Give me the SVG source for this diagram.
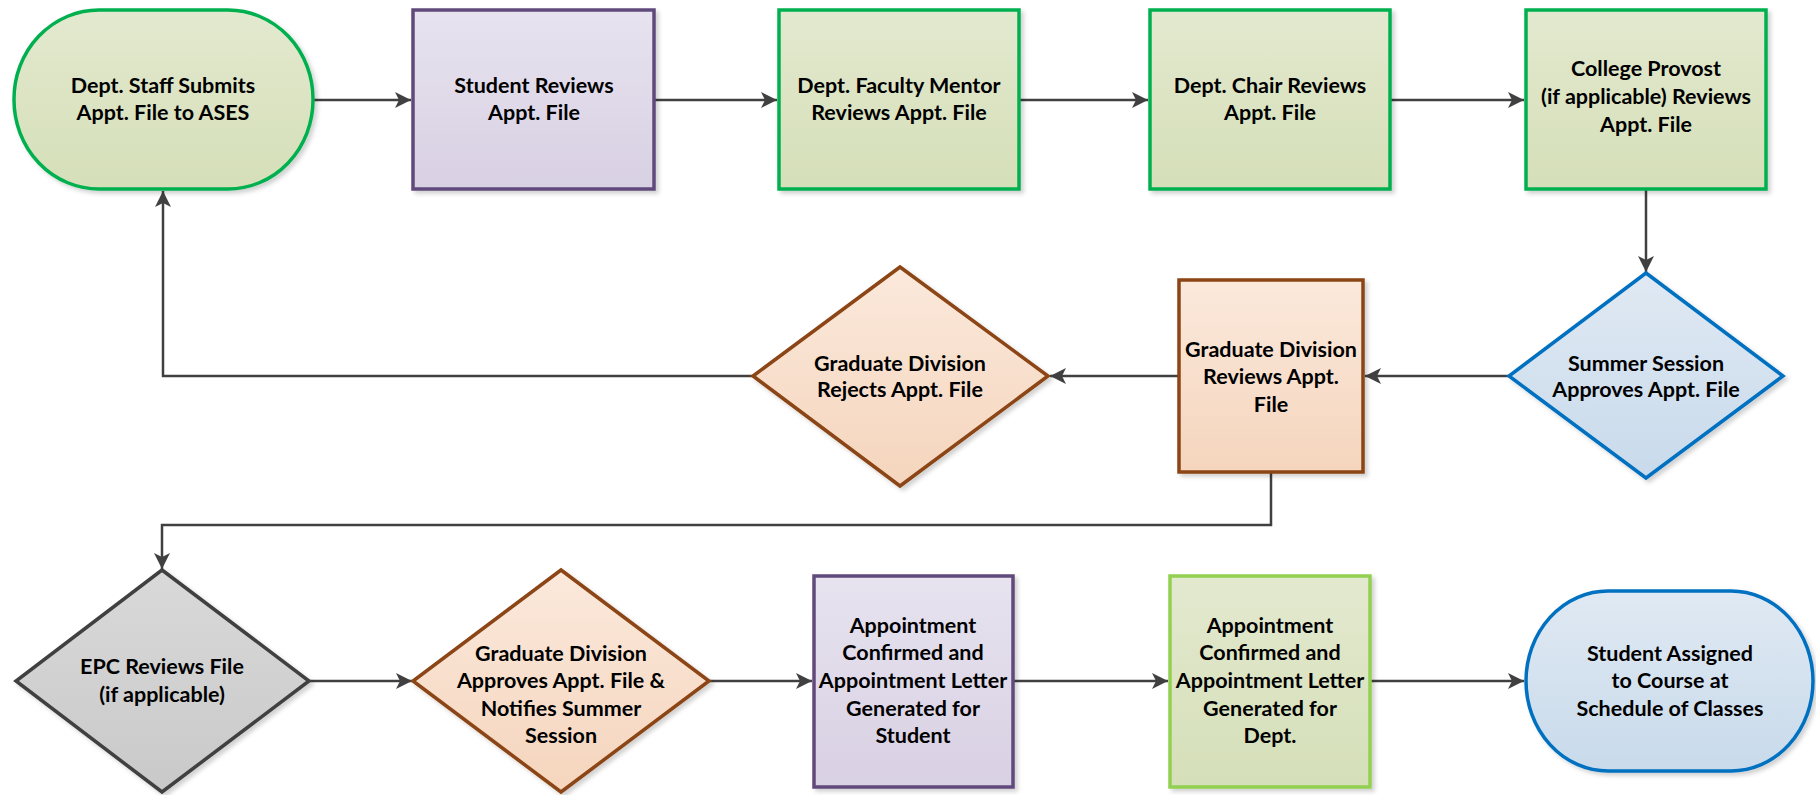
<svg xmlns="http://www.w3.org/2000/svg" width="1816" height="795" viewBox="0 0 1816 795">
<defs>
<linearGradient id="gGreen" x1="0" y1="0" x2="0" y2="1"><stop offset="0" stop-color="#E3E9CF"/><stop offset="1" stop-color="#D5DFB8"/></linearGradient>
<linearGradient id="gPurple" x1="0" y1="0" x2="0" y2="1"><stop offset="0" stop-color="#E7E3EF"/><stop offset="1" stop-color="#D8D0E3"/></linearGradient>
<linearGradient id="gOrange" x1="0" y1="0" x2="0" y2="1"><stop offset="0" stop-color="#FBE9DC"/><stop offset="1" stop-color="#F5D5BD"/></linearGradient>
<linearGradient id="gBlue" x1="0" y1="0" x2="0" y2="1"><stop offset="0" stop-color="#E0E9F3"/><stop offset="1" stop-color="#C8DAEB"/></linearGradient>
<linearGradient id="gGray" x1="0" y1="0" x2="0" y2="1"><stop offset="0" stop-color="#D9D9D9"/><stop offset="1" stop-color="#C9C9C9"/></linearGradient>
<filter id="sh" x="-10%" y="-10%" width="130%" height="130%"><feDropShadow dx="3" dy="3" stdDeviation="2" flood-color="#000" flood-opacity="0.18"/></filter>
<marker id="ah" viewBox="0 0 16 16" refX="16" refY="8" markerWidth="16" markerHeight="16" markerUnits="userSpaceOnUse" orient="auto"><path d="M0,0 L16,8 L0,16 L4,8 Z" fill="#404040"/></marker>
</defs>
<style>
.t{font-family:"Lato","Liberation Sans",sans-serif;font-weight:bold;font-size:21.5px;fill:#000;text-anchor:middle}
.c{fill:none;stroke:#404040;stroke-width:2.5}
.sg{stroke:#00B050;stroke-width:3.5}
.sp{stroke:#604A7B;stroke-width:3.5}
.so{stroke:#8B4513;stroke-width:3.5}
.sb{stroke:#0070C0;stroke-width:3.5}
.sk{stroke:#404040;stroke-width:3.5}
.sl{stroke:#92D050;stroke-width:3.5}
</style>
<rect width="1816" height="795" fill="#fff"/>
<g id="connectors">
<path class="c" d="M313,100 H411" marker-end="url(#ah)"/>
<path class="c" d="M654,100 H777" marker-end="url(#ah)"/>
<path class="c" d="M1019,100 H1148" marker-end="url(#ah)"/>
<path class="c" d="M1390,100 H1524" marker-end="url(#ah)"/>
<path class="c" d="M1646,189 V272" marker-end="url(#ah)"/>
<path class="c" d="M1509,376 H1365" marker-end="url(#ah)"/>
<path class="c" d="M1179,376 H1050" marker-end="url(#ah)"/>
<path class="c" d="M753,376 H163 V191" marker-end="url(#ah)"/>
<path class="c" d="M1271,472 V525 H162 V569" marker-end="url(#ah)"/>
<path class="c" d="M309,681 H412" marker-end="url(#ah)"/>
<path class="c" d="M709,681 H812" marker-end="url(#ah)"/>
<path class="c" d="M1013,681 H1168" marker-end="url(#ah)"/>
<path class="c" d="M1370,681 H1524" marker-end="url(#ah)"/>
</g>
<g id="n1"><rect x="14" y="10" width="299" height="179" rx="85" ry="89" fill="url(#gGreen)" class="sg" filter="url(#sh)"/>
<text class="t" x="163" y="93">Dept. Staff Submits</text><text class="t" x="163" y="120">Appt. File to ASES</text></g>
<g id="n2"><rect x="413" y="10" width="241" height="179" fill="url(#gPurple)" class="sp" filter="url(#sh)"/>
<text class="t" x="534" y="93">Student Reviews</text><text class="t" x="534" y="120">Appt. File</text></g>
<g id="n3"><rect x="779" y="10" width="240" height="179" fill="url(#gGreen)" class="sg" filter="url(#sh)"/>
<text class="t" x="899" y="93">Dept. Faculty Mentor</text><text class="t" x="899" y="120">Reviews Appt. File</text></g>
<g id="n4"><rect x="1150" y="10" width="240" height="179" fill="url(#gGreen)" class="sg" filter="url(#sh)"/>
<text class="t" x="1270" y="93">Dept. Chair Reviews</text><text class="t" x="1270" y="120">Appt. File</text></g>
<g id="n5"><rect x="1526" y="10" width="240" height="179" fill="url(#gGreen)" class="sg" filter="url(#sh)"/>
<text class="t" x="1646" y="76">College Provost</text><text class="t" x="1646" y="104">(if applicable) Reviews</text><text class="t" x="1646" y="132">Appt. File</text></g>
<g id="n6"><polygon points="1646,273 1783,376 1646,478 1509,376" fill="url(#gBlue)" class="sb" filter="url(#sh)"/>
<text class="t" x="1646" y="371">Summer Session</text><text class="t" x="1646" y="397">Approves Appt. File</text></g>
<g id="n7"><rect x="1179" y="280" width="184" height="192" fill="url(#gOrange)" class="so" filter="url(#sh)"/>
<text class="t" x="1271" y="357">Graduate Division</text><text class="t" x="1271" y="384">Reviews Appt.</text><text class="t" x="1271" y="412">File</text></g>
<g id="n8"><polygon points="900,267 1048,376 900,486 753,376" fill="url(#gOrange)" class="so" filter="url(#sh)"/>
<text class="t" x="900" y="371">Graduate Division</text><text class="t" x="900" y="397">Rejects Appt. File</text></g>
<g id="n9"><polygon points="162,570 309,681 162,792 16,681" fill="url(#gGray)" class="sk" filter="url(#sh)"/>
<text class="t" x="162" y="674">EPC Reviews File</text><text class="t" x="162" y="702">(if applicable)</text></g>
<g id="n10"><polygon points="561,570 709,681 561,792 413,681" fill="url(#gOrange)" class="so" filter="url(#sh)"/>
<text class="t" x="561" y="661">Graduate Division</text><text class="t" x="561" y="688">Approves Appt. File &amp;</text><text class="t" x="561" y="716">Notifies Summer</text><text class="t" x="561" y="743">Session</text></g>
<g id="n11"><rect x="814" y="576" width="199" height="211" fill="url(#gPurple)" class="sp" filter="url(#sh)"/>
<text class="t" x="913" y="633">Appointment</text><text class="t" x="913" y="660">Confirmed and</text><text class="t" x="913" y="688">Appointment Letter</text><text class="t" x="913" y="716">Generated for</text><text class="t" x="913" y="743">Student</text></g>
<g id="n12"><rect x="1170" y="576" width="200" height="211" fill="url(#gGreen)" class="sl" filter="url(#sh)"/>
<text class="t" x="1270" y="633">Appointment</text><text class="t" x="1270" y="660">Confirmed and</text><text class="t" x="1270" y="688">Appointment Letter</text><text class="t" x="1270" y="716">Generated for</text><text class="t" x="1270" y="743">Dept.</text></g>
<g id="n13"><rect x="1526" y="591" width="287" height="180" rx="82" ry="90" fill="url(#gBlue)" class="sb" filter="url(#sh)"/>
<text class="t" x="1670" y="661">Student Assigned</text><text class="t" x="1670" y="688">to Course at</text><text class="t" x="1670" y="716">Schedule of Classes</text></g>
</svg>
